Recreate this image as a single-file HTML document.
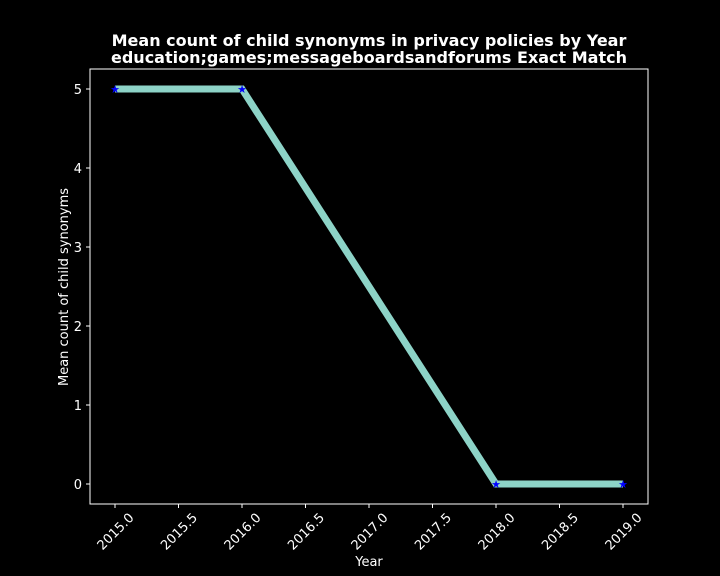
<!DOCTYPE html>
<html><head><meta charset="utf-8"><style>
body{margin:0;background:#000;}
svg{display:block;font-family:"DejaVu Sans","Liberation Sans",sans-serif;}
</style></head><body>
<svg id="chart" width="720" height="576">
<rect width="720" height="576" fill="#000"/>
<text x="369" y="46" fill="#fff" font-size="16" font-weight="bold" text-anchor="middle">Mean count of child synonyms in privacy policies by Year</text>
<text x="369" y="63" fill="#fff" font-size="16" font-weight="bold" text-anchor="middle">education;games;messageboardsandforums Exact Match</text>
<rect x="90" y="69" width="558" height="435" fill="none" stroke="#fff" stroke-width="1"/>
<g id="xticks"></g><g id="yticks"></g><g id="series"></g>
<text x="369" y="566" fill="#fff" font-size="13" text-anchor="middle">Year</text>
<text transform="translate(68,287) rotate(-90)" fill="#fff" font-size="13" text-anchor="middle">Mean count of child synonyms</text>
</svg>
<script>
const years=[2015,2016,2018,2019];
const means=[5,5,0,0];
const xTicks=[2015,2015.5,2016,2016.5,2017,2017.5,2018,2018.5,2019];
const yTicks=[0,1,2,3,4,5];
const NS="http://www.w3.org/2000/svg";
const xs=v=>115+(v-2015)*127;
const ys=v=>484-v*79;
function mk(t,a,p){const e=document.createElementNS(NS,t);for(const k in a)e.setAttribute(k,a[k]);p.appendChild(e);return e;}
const xg=document.getElementById('xticks'),yg=document.getElementById('yticks'),sg=document.getElementById('series');
xTicks.forEach(v=>{const x=xs(v);
const l=mk('line',{x1:x,x2:x,y1:504,y2:508,stroke:'#fff'},xg);


const t=mk('text',{x:x,y:536,fill:'#fff','font-size':13,'text-anchor':'middle',transform:`rotate(-45 ${x} 531)`},xg);
t.textContent=v.toFixed(1);

});
yTicks.forEach(v=>{const y=ys(v);
const l=mk('line',{x1:86,x2:90,y1:y,y2:y,stroke:'#fff'},yg);


const t=mk('text',{x:82,y:y+5,fill:'#fff','font-size':13,'text-anchor':'end'},yg);
t.textContent=v;

});
const pl=mk('polyline',{points:years.map((y,i)=>xs(y)+','+ys(means[i])).join(' '),fill:'none',stroke:'#8dd3c7','stroke-width':7,'stroke-linejoin':'miter'},sg);


years.forEach((y,i)=>{const m=mk('text',{x:xs(y),y:ys(means[i])+4,fill:'#0000ff','font-size':11,'text-anchor':'middle'},sg);
m.textContent='★';

});
</script>
</body></html>
